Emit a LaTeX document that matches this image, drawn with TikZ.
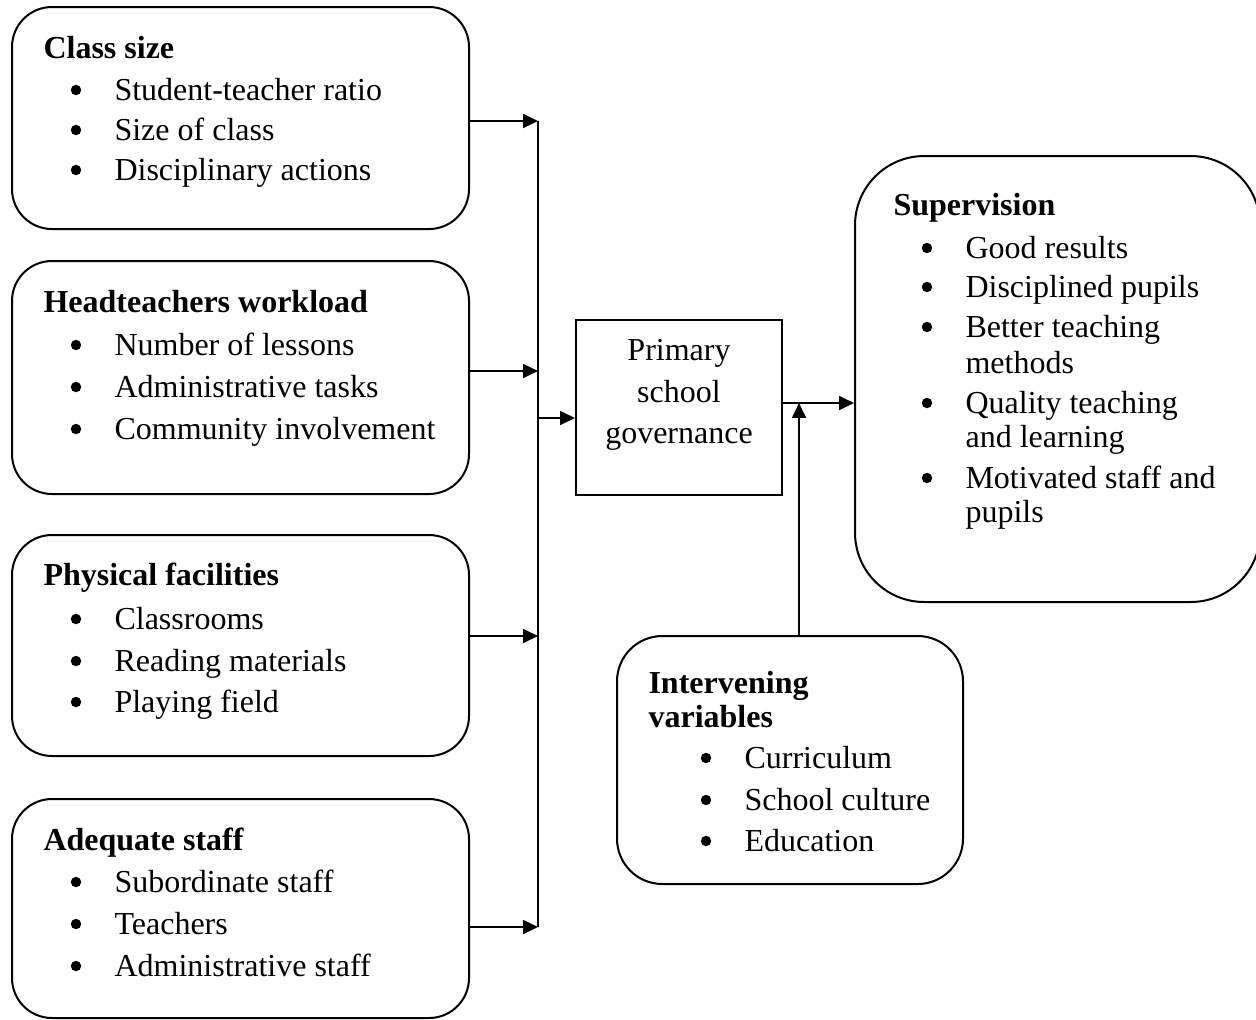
\documentclass[tikz,border=0pt,12pt]{standalone}
\usepackage{fontspec}
\setmainfont{Liberation Serif}
\usetikzlibrary{arrows.meta,fit}
\newcommand\bitem[5]{\node[dot] (#1-b) at (#2,{#4-10}) {};
  \node[txt] (#1) at (#3,#4) {#5};}
\begin{document}
\begin{tikzpicture}[x=0.375pt,y=-0.375pt,
  font=\fontsize{12pt}{14pt}\selectfont,
  lw/.style={line width=0.75pt},
  rbox/.style={draw,lw,inner sep=0pt,rounded corners=15pt},
  txt/.style={anchor=base west,inner sep=0pt},
  dot/.style={circle,fill,inner sep=0pt,minimum size=3.9pt},
  ttl/.style={txt,font=\fontsize{12pt}{14pt}\selectfont\bfseries},
  arr/.style={lw,-{Triangle[length=5.6pt,width=5.2pt]}}]
\clip (0,0) rectangle (1256,1019);
% left boxes
\node[rbox,fit={(12,7) (469,229)}] (box1) {};
\node[rbox,fit={(12,261) (469,494)}] (box2) {};
\node[rbox,fit={(12,535) (469,756)}] (box3) {};
\node[rbox,fit={(12,799) (469,1018)}] (box4) {};
\node[draw,lw,inner sep=0pt,fit={(576,320) (782,495)}] (prim) {};
\node[rbox,rounded corners=26pt,fit={(855,156) (1260,602)}] (sup) {};
\node[rbox,rounded corners=17pt,fit={(617,636) (963,884)}] (interv) {};
% texts box1
\node[ttl] (t1) at (43,58) {Class size};
\bitem{a1}{76}{114}{100}{Student-teacher ratio}
\bitem{a2}{76}{114}{140}{Size of class}
\bitem{a3}{76}{114}{180}{Disciplinary actions}
% box2
\node[ttl] (t2) at (43,312) {Headteachers workload};
\bitem{b1}{76}{114}{355}{Number of lessons}
\bitem{b2}{76}{114}{397}{Administrative tasks}
\bitem{b3}{76}{114}{439}{Community involvement}
% box3
\node[ttl] (t3) at (43,585) {Physical facilities};
\bitem{c1}{76}{114}{629}{Classrooms}
\bitem{c2}{76}{114}{671}{Reading materials}
\bitem{c3}{76}{114}{712}{Playing field}
% box4
\node[ttl] (t4) at (43,850) {Adequate staff};
\bitem{d1}{76}{114}{892}{Subordinate staff}
\bitem{d2}{76}{114}{934}{Teachers}
\bitem{d3}{76}{114}{976}{Administrative staff}
% primary
\node[anchor=base,inner sep=0pt] (p1) at (679,360) {Primary};
\node[anchor=base,inner sep=0pt] (p2) at (679,402) {school};
\node[anchor=base,inner sep=0pt] (p3) at (679,443) {governance};
% supervision
\node[ttl] (t5) at (893,215) {Supervision};
\bitem{e1}{927}{965}{258}{Good results}
\bitem{e2}{927}{965}{297}{Disciplined pupils}
\bitem{e3}{927}{965}{337}{Better teaching}
\node[txt] (e3b) at (965,373) {methods};
\bitem{e4}{927}{965}{413}{Quality teaching}
\node[txt] (e4b) at (965,447) {and learning};
\bitem{e5}{927}{965}{488}{Motivated staff and}
\node[txt] (e5b) at (965,522) {pupils};
% intervening
\node[ttl] (t6) at (648,693) {Intervening};
\node[ttl] (t6b) at (648,727) {variables};
\bitem{f1}{706}{744}{768}{Curriculum}
\bitem{f2}{706}{744}{810}{School culture}
\bitem{f3}{706}{744}{851}{Education}
% connectors
\coordinate (k1) at (538,121);
\coordinate (k2) at (538,371);
\coordinate (k3) at (538,636);
\coordinate (k4) at (538,927);
\coordinate (km) at (538,418);
\coordinate (j) at (799,403);
\draw[arr] (box1.east |- k1) -- (k1);
\draw[arr] (box2.east |- k2) -- (k2);
\draw[arr] (box3.east |- k3) -- (k3);
\draw[arr] (box4.east |- k4) -- (k4);
\draw[lw] (k1) -- (k4);
\draw[arr] (km) -- (prim.west |- km);
\draw[arr] (prim.east |- j) -- (sup.west |- j);
\draw[arr] (j |- interv.north) -- (j);
\end{tikzpicture}
\end{document}
